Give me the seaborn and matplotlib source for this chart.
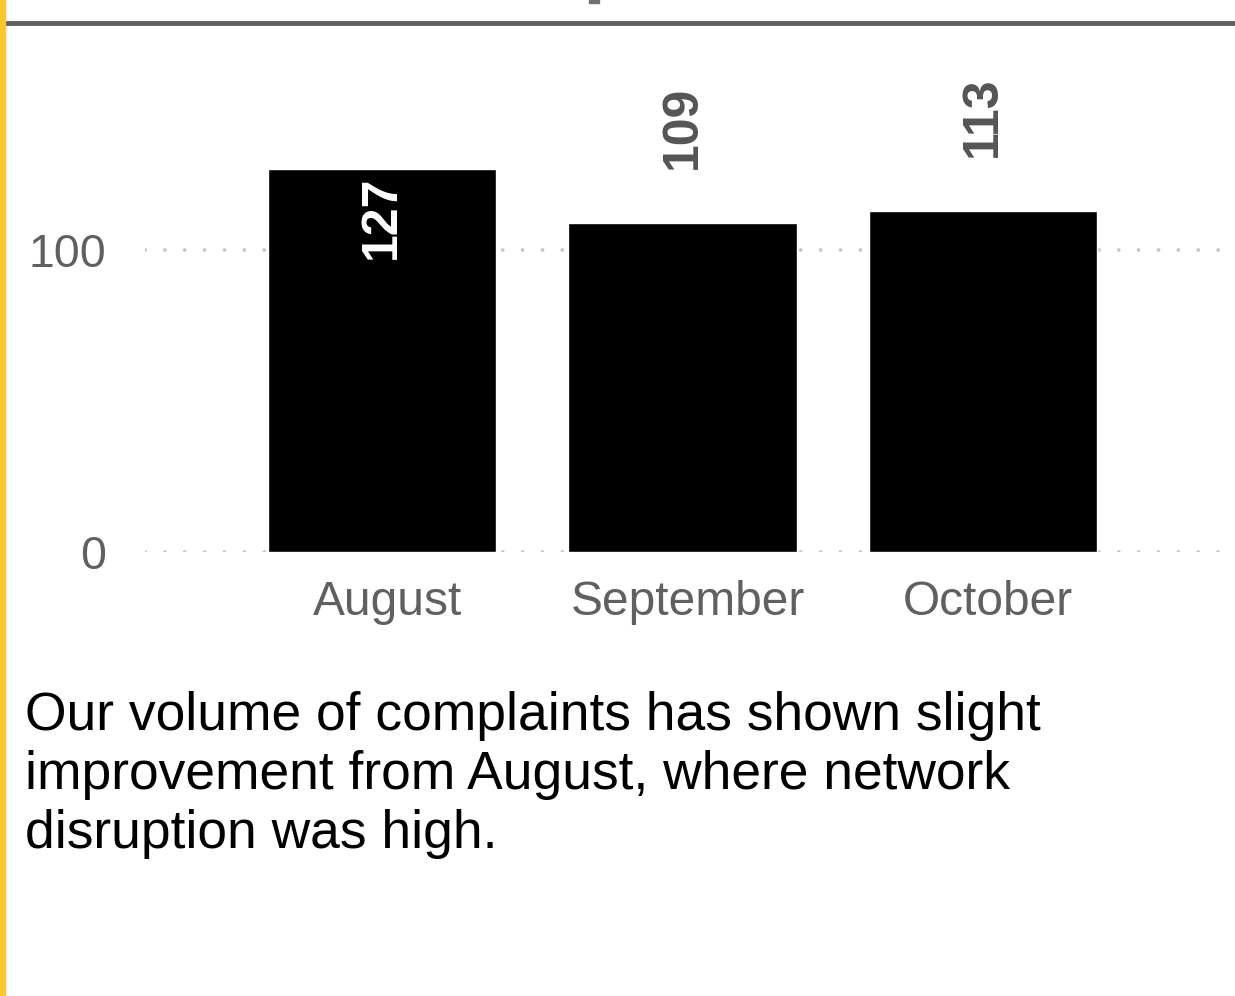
import matplotlib
matplotlib.use('Agg')
import matplotlib.pyplot as plt
import matplotlib.transforms as mtransforms
import seaborn as sns
import pandas as pd
from matplotlib.patches import Rectangle
from matplotlib.lines import Line2D

# ── Data ──────────────────────────────────────────────
months = ['August', 'September', 'October']
complaints = [127, 109, 113]
label_inside = [True, False, False]   # first bar label sits inside
y_ticks = [0, 100]
caption = ("Our volume of complaints has shown slight\n"
           "improvement from August, where network\n"
           "disruption was high.")

df = pd.DataFrame({'month': months, 'complaints': complaints})

# ── Style ─────────────────────────────────────────────
sns.set_style('white')
plt.rcParams['font.family'] = ['Liberation Sans', 'DejaVu Sans']

W, H = 1235, 996
fig = plt.figure(figsize=(W / 100, H / 100), dpi=100)

# axes placed in pixel terms
left, bottom, top = 145, 552, 60
ax = fig.add_axes([left / W, (H - bottom) / H, 1 - left / W, (bottom - top) / H])

sns.barplot(data=df, x='month', y='complaints', color='black',
            width=0.76, saturation=1, ax=ax, zorder=3)

ax.set_xlim(-0.79, 2.84)
ax.set_ylim(0, 163)
ax.set_yticks(y_ticks)
ax.set_xlabel('')
ax.set_ylabel('')
sns.despine(ax=ax, left=True, bottom=True, top=True, right=True)

# round dotted gridlines
ax.grid(axis='y', color='#c8c8c8', linestyle=(0, (0.01, 5.1)), linewidth=2.8,
        dash_capstyle='round', zorder=0)
for gl in ax.get_ygridlines():
    gl.set_dash_capstyle('round')
ax.grid(axis='x', visible=False)

ax.tick_params(axis='y', length=0, pad=28, labelsize=33.5, labelcolor='#606060')
ax.tick_params(axis='x', length=0, pad=20, labelsize=34.5, labelcolor='#606060')

# month labels sit a touch right of bar centres in the original
shift = mtransforms.ScaledTranslation(5 / 100, 0, fig.dpi_scale_trans)
for lbl in ax.get_xticklabels():
    lbl.set_transform(lbl.get_transform() + shift)

# value labels
for i, (v, inside) in enumerate(zip(complaints, label_inside)):
    if inside:
        ax.annotate(str(v), (i, v), xytext=(0, -5), textcoords='offset points',
                    rotation=90, ha='center', va='top', color='white',
                    fontsize=36, fontweight='bold', zorder=4)
    else:
        ax.annotate(str(v), (i, v), xytext=(0, 39), textcoords='offset points',
                    rotation=90, ha='center', va='bottom', color='#555555',
                    fontsize=36, fontweight='bold', zorder=4)

# caption
fig.text(25 / W, 1 - 691 / H, caption, ha='left', va='top', fontsize=38.4,
         color='black', linespacing=1.23)

# decorations: yellow left rule, grey top rule, clipped title stub
fig.patches.append(Rectangle((0, 0), 5 / W, 1, transform=fig.transFigure,
                             color='#ffc629', zorder=5))
fig.lines.append(Line2D([5 / W, 1], [1 - 23 / H, 1 - 23 / H],
                        transform=fig.transFigure, color='#5f5f5f', linewidth=3.5))
fig.patches.append(Rectangle((589 / W, 1 - 3 / H), 10 / W, 3 / H,
                             transform=fig.transFigure, color='#707070'))

fig.savefig('out.png', dpi=100)
